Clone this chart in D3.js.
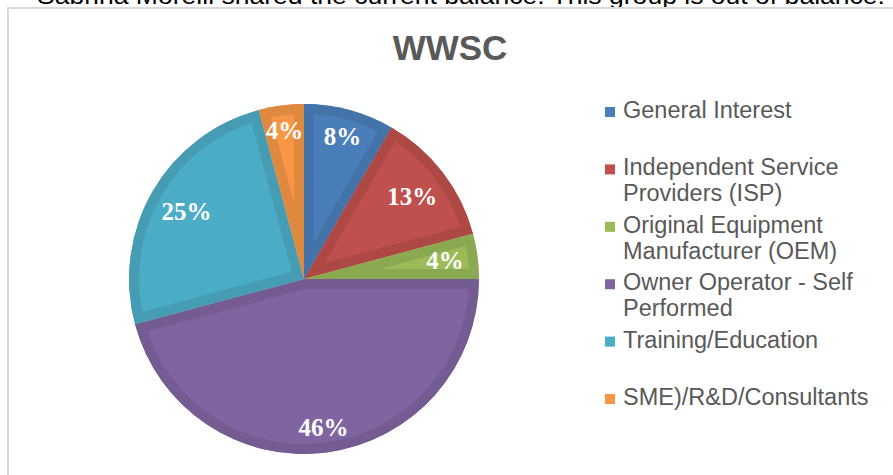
<!DOCTYPE html>
<html>
<head>
<meta charset="utf-8">
<script src="https://cdn.jsdelivr.net/npm/d3@7/dist/d3.min.js"></script>
<style>
  body { margin: 0; background: #fff; }
  svg { display: block; }
</style>
</head>
<body>
<svg></svg>
<script>
// chart data
var categories = [
    "General Interest",
    "Independent Service Providers (ISP)",
    "Original Equipment Manufacturer (OEM)",
    "Owner Operator - Self Performed",
    "Training/Education",
    "SME)/R&D/Consultants"
];
var counts = [2, 3, 1, 11, 6, 1];
var title = "WWSC";
var note = "Sabrina Morelli shared the current balance. This group is out of balance.";

// slice colours: inner fill and the darker edge band
var fills = ["#4a7ebb", "#c0504d", "#9bbb59", "#8064a2", "#4bacc6", "#f79646"];
var bands = ["#4473aa", "#ad4845", "#8ba950", "#745b92", "#459cb3", "#df893f"];

var svg = d3.select("svg"),
    width = 893,
    height = 475;

svg.attr("width", width).attr("height", height);

// cut-off line of text above the chart
var noteText = svg.append("text")
    .attr("x", 37)
    .attr("y", 4)
    .attr("font-family", "Arial, 'Liberation Sans', sans-serif")
    .attr("font-size", 23)
    .attr("fill", "#000")
    .text(note);
noteText.attr("textLength", 848).attr("lengthAdjust", "spacingAndGlyphs");

// chart frame
svg.append("rect")
    .attr("x", 8)
    .attr("y", 8)
    .attr("width", 900)
    .attr("height", 480)
    .attr("fill", "#fff")
    .attr("stroke", "#d9d9d9")
    .attr("stroke-width", 2);

svg.append("text")
    .attr("x", 450)
    .attr("y", 60)
    .attr("text-anchor", "middle")
    .attr("font-family", "Arial, 'Liberation Sans', sans-serif")
    .attr("font-weight", "bold")
    .attr("font-size", 35)
    .attr("fill", "#595959")
    .text(title);

var cx = 304, cy = 279, radius = 175, band = 10;
var total = d3.sum(counts);
var pct = d3.format(".0%");

var pie = d3.pie().sort(null).value(d => d);
var arc = d3.arc().innerRadius(0).outerRadius(radius);
var arcs = pie(counts);

var g = svg.append("g").attr("transform", "translate(" + cx + "," + cy + ")");
var defs = svg.append("defs");

defs.selectAll("clipPath")
    .data(arcs)
    .join("clipPath")
    .attr("id", (d, i) => "slice-" + i)
    .append("path")
    .attr("d", arc);

g.selectAll("path.slice")
    .data(arcs)
    .join("path")
    .attr("class", "slice")
    .attr("d", arc)
    .attr("fill", (d, i) => fills[i])
    .attr("stroke", (d, i) => bands[i])
    .attr("stroke-width", band * 2)
    .attr("stroke-linejoin", "miter")
    .attr("clip-path", (d, i) => "url(#slice-" + i + ")");

// percentage labels, pushed out as far as they fit inside the edge band
var labels = g.selectAll("text.pct")
    .data(arcs)
    .join("text")
    .attr("class", "pct")
    .attr("text-anchor", "middle")
    .attr("dy", "0.35em")
    .attr("font-family", "'Liberation Serif', 'Times New Roman', serif")
    .attr("font-weight", "bold")
    .attr("font-size", 25)
    .attr("fill", "#fff")
    .text(d => pct(d.value / total));

labels.each(function(d) {
    var box = this.getBBox();
    var a = (d.startAngle + d.endAngle) / 2;
    var sx = Math.sin(a), sy = -Math.cos(a);
    var ext = Math.abs(sx) * box.width / 2 + Math.abs(sy) * box.height * 0.34;
    var r = radius - band - ext - 3;
    d3.select(this).attr("x", sx * r).attr("y", sy * r);
});

// legend
var legendY = d3.scalePoint().domain(categories).range([118, 405]);
var legend = svg.append("g")
    .selectAll("g")
    .data(categories)
    .join("g")
    .attr("transform", d => "translate(605," + legendY(d) + ")");

legend.append("rect")
    .attr("x", 0)
    .attr("y", -11)
    .attr("width", 10)
    .attr("height", 10)
    .attr("fill", (d, i) => fills[i]);

legend.append("text")
    .attr("x", 18)
    .attr("y", 0)
    .attr("font-family", "Arial, 'Liberation Sans', sans-serif")
    .attr("font-size", 23.5)
    .attr("fill", "#595959")
    .each(function(d) {
        // wrap long names onto a second line
        var el = d3.select(this),
            words = d.split(" "),
            line = [],
            lineNo = 0,
            tspan = el.append("tspan").attr("x", 18).attr("dy", 0);
        words.forEach(function(w) {
            line.push(w);
            tspan.text(line.join(" "));
            if (tspan.node().getComputedTextLength() > 258 && line.length > 1) {
                line.pop();
                tspan.text(line.join(" "));
                line = [w];
                lineNo++;
                tspan = el.append("tspan").attr("x", 18).attr("dy", 26).text(w);
            }
        });
    });
</script>
</body>
</html>
